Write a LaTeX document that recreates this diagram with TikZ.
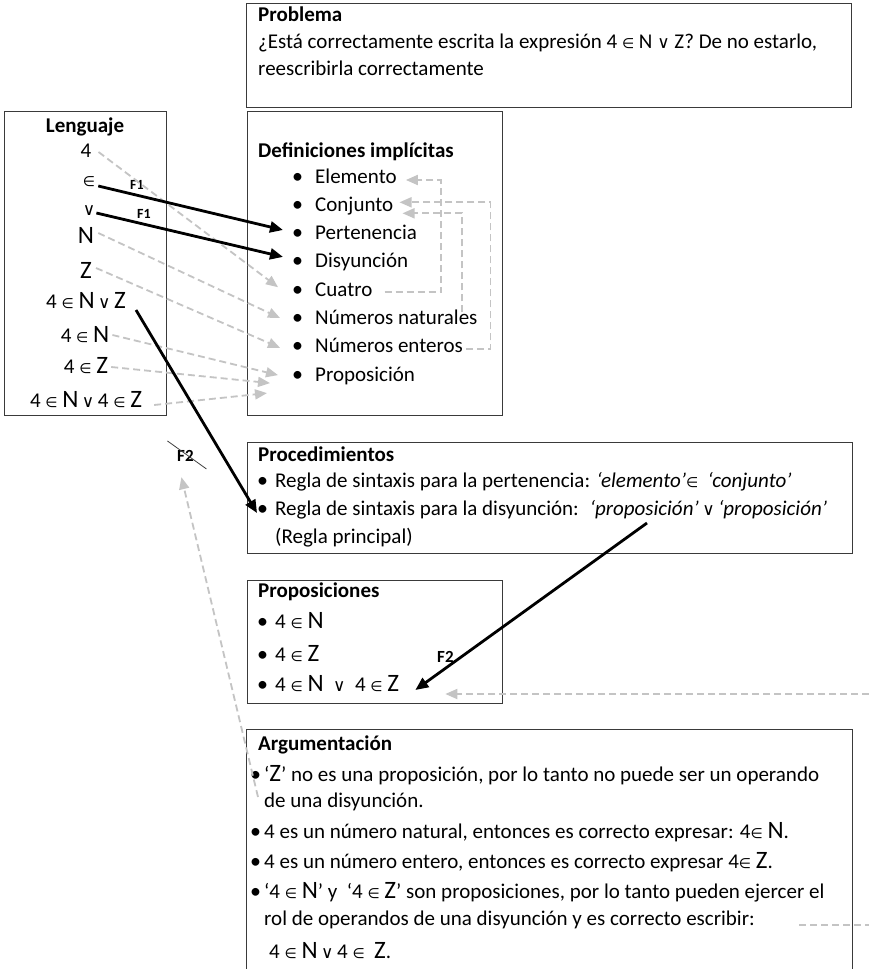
\documentclass[tikz,border=0pt]{standalone}
\usepackage{fontspec}
\setmainfont{Carlito}
\newfontfamily\symfont{DejaVu Sans}
\usetikzlibrary{arrows.meta,calc}

\definecolor{dashgray}{HTML}{C4C4C4}
\definecolor{boxline}{HTML}{3A3A3A}

% operator glyphs and the large set letters
\newcommand\sIn{{\symfont\fontsize{14}{14}\selectfont ∈}}
\newcommand\sOr{{\symfont\fontsize{17}{17}\selectfont ∨}}
\newcommand\bN{{\fontsize{25}{25}\selectfont N}}
\newcommand\bZ{{\fontsize{25}{25}\selectfont Z}}
% bullets with the indents of each box
\newcommand\bigbul{{\fontsize{22}{22}\selectfont\textbullet}}
\newcommand\bulD{\makebox[23pt][l]{\bigbul}}
\newcommand\bulP{\makebox[18pt][l]{\bigbul}}
\newcommand\bulA{\makebox[14pt][l]{\bigbul}}

\tikzset{
  txt/.style={inner sep=0pt, font=\fontsize{21}{25}\selectfont, text height=14pt, text depth=4pt},
  ttl/.style={txt, font=\fontsize{21}{25}\selectfont\bfseries},
  lab/.style={inner sep=0pt, font=\fontsize{14}{14}\selectfont\bfseries},
  labF/.style={inner sep=0pt, font=\fontsize{17}{17}\selectfont\bfseries},
  frame/.style={draw=boxline, line width=1pt},
  blk/.style={line width=2.8pt, -{Triangle[length=13pt,width=11pt]}},
  gry/.style={draw=dashgray, line width=1.8pt, dash pattern=on 7pt off 4pt,
              -{Triangle[length=12pt,width=10pt]}},
  grl/.style={draw=dashgray, line width=1.8pt, dash pattern=on 7pt off 4pt},
  strike/.style={draw=black!75, line width=0.8pt},
}

\begin{document}
\begin{tikzpicture}[x=1pt,y=-1pt]
\useasboundingbox (0,0) rectangle (869,969);
\fill[white] (0,0) rectangle (869,969);

% frames
\draw[frame] (246,3) rectangle (851,107);
\draw[frame] (4,111) rectangle (166,415);
\draw[frame] (247,111) rectangle (502,415);
\draw[frame] (247,442) rectangle (852,553);
\draw[frame] (247,580) rectangle (502,703);
\draw[frame] (246,729) rectangle (852,995);

% Problema
\node[ttl, anchor=base west] (tprob) at (258,21) {Problema};
\node[txt, anchor=base west] (q1) at (258,48) {¿Está correctamente escrita la expresión 4 \sIn\ N \sOr\ Z? De no estarlo,};
\node[txt, anchor=base west] (q2) at (258,75) {reescribirla correctamente};

% Lenguaje
\node[ttl, anchor=base] (tlen) at (85,132) {Lenguaje};
\node[txt, anchor=base] (l4) at (86,157) {4};
\node[txt, anchor=base] (lin) at (89,186) {\sIn};
\node[txt, anchor=base] (lor) at (89,215) {\sOr};
\node[txt, anchor=base] (lN) at (86,243) {\bN};
\node[txt, anchor=base] (lZ) at (86,278) {\bZ};
\node[txt, anchor=base] (lexp) at (86,308) {4 \sIn\ \bN\,\sOr\,\bZ};
\node[txt, anchor=base] (l4N) at (85,342) {4 \sIn\ \bN};
\node[txt, anchor=base] (l4Z) at (86,373) {4 \sIn\ \bZ};
\node[txt, anchor=base] (ldis) at (86,407) {4 \sIn\ \bN\,\sOr\,4 \sIn\ \bZ};

% Definiciones implicitas
\node[ttl, anchor=base west] (tdef) at (258,157) {Definiciones implícitas};
\node[txt, anchor=base west] (delem) at (292,183.0) {\bulD Elemento};
\node[txt, anchor=base west] (dconj) at (292,211.3) {\bulD Conjunto};
\node[txt, anchor=base west] (dpert) at (292,239.6) {\bulD Pertenencia};
\node[txt, anchor=base west] (ddis)  at (292,267.9) {\bulD Disyunción};
\node[txt, anchor=base west] (dcua)  at (292,296.2) {\bulD Cuatro};
\node[txt, anchor=base west] (dnat)  at (292,324.5) {\bulD Números naturales};
\node[txt, anchor=base west] (dent)  at (292,352.8) {\bulD Números enteros};
\node[txt, anchor=base west] (dpro)  at (292,381.1) {\bulD Proposición};

% Procedimientos
\node[ttl, anchor=base west] (tproc) at (258,461) {Procedimientos};
\node[txt, anchor=base west] (pb1) at (257,487) {\bulP Regla de sintaxis para la pertenencia: \textit{‘elemento’}\sIn\ \ \textit{‘conjunto’}};
\node[txt, anchor=base west] (pb2) at (257,515) {\bulP Regla de sintaxis para la disyunción: \ \textit{‘proposición’}\,\sOr\,\textit{‘proposición’}};
\node[txt, anchor=base west] (pb3) at (275,543) {(Regla principal)};

% Proposiciones
\node[ttl, anchor=base west] (tprop) at (258,597) {Proposiciones};
\node[txt, anchor=base west] (pp1) at (257,628) {\bulP 4 \sIn\ \bN};
\node[txt, anchor=base west] (pp2) at (257,661) {\bulP 4 \sIn\ \bZ};
\node[txt, anchor=base west] (pp3) at (257,691) {\bulP 4 \sIn\ \bN\ \ \sOr\ \ 4 \sIn\ \bZ};

% Argumentacion
\node[ttl, anchor=base west] (targ) at (258,750) {Argumentación};
\node[txt, anchor=base west] (a1)  at (250,781) {\bulA ‘\bZ’ no es una proposición, por lo tanto no puede ser un operando};
\node[txt, anchor=base west] (a1b) at (264,807) {de una disyunción.};
\node[txt, anchor=base west] (a2)  at (250,838) {\bulA 4 es un número natural, entonces es correcto expresar: 4\sIn\ \bN.};
\node[txt, anchor=base west] (a3)  at (250,868) {\bulA 4 es un número entero, entonces es correcto expresar 4\sIn\ \bZ.};
\node[txt, anchor=base west] (a4)  at (250,898) {\bulA ‘4 \sIn\ \bN’ y \ ‘4 \sIn\ \bZ’ son proposiciones, por lo tanto pueden ejercer el};
\node[txt, anchor=base west] (a4b) at (264,925) {rol de operandos de una disyunción y es correcto escribir:};
\node[txt, anchor=base west] (a4c) at (269,958) {4 \sIn\ \bN\,\sOr\,4 \sIn\ \ \bZ.};

% labels on the connectors
\node[lab, anchor=base west] (f1a) at (130,189) {F1};
\node[lab, anchor=base west] (f1b) at (137,218) {F1};
\node[labF, anchor=base west] (f2x) at (177,461) {F2};
\node[labF, anchor=base west] (f2r) at (437,662) {F2};
\draw[strike] ($(f2x.center)+(-18,-14.5)$) -- ($(f2x.center)+(21,13.5)$);

% Lenguaje -> Definiciones
\draw[gry] ($(l4.east)+(7,0)$) -- ($(dcua.west)+(-14,-4)$);
\draw[blk] ($(lin.east)+(3,5)$) -- ($(dpert.west)+(-9,-4.6)$);
\draw[blk] ($(lor.east)+(1,3)$) -- ($(ddis.west)+(-9,-6)$);
\draw[gry] ($(lN.east)+(4,-5)$) -- ($(dnat.west)+(-12,-1.5)$);
\draw[gry] ($(lZ.east)+(4,-5)$) -- ($(dent.west)+(-12,0)$);
\draw[gry] ($(l4N.east)+(3,-2)$) -- ($(dpro.west)+(-14,-1)$);
\draw[gry] ($(l4Z.east)+(3,-1)$) -- ($(dpro.west)+(-22,7)$);
\draw[gry] ($(ldis.east)+(12,3)$) -- ($(dpro.west)+(-25,17)$);

% links inside Definiciones
\draw[gry] ($(dcua.east)+(12,1)$) -| ($(delem.east)+(44,2)$) -- ($(delem.east)+(9,2)$);
\draw[gry] ($(dnat.north west)+(170,2)$) |- ($(dconj.east)+(9,7)$);
\draw[gry] ($(dent.east)+(3,1)$) -| ($(dconj.east)+(97,-4)$) -- ($(dconj.east)+(6,-4)$);

% Lenguaje -> Procedimientos -> Proposiciones
\draw[blk] ($(lexp.east)+(10,7)$) -- ($(pb2.west)+(0,3)$);
\draw[blk] ($(pb2.base west)+(390,8)$) -- ($(pp3.east)+(16,4)$);

% dashed links leaving the sheet
\coordinate (edgeA) at (869,694);
\coordinate (edgeB) at (869,925);
\draw[gry] (edgeA) -- ($(pp3.east)+(46,8)$);
\draw[grl] ($(a4b.east)+(44,5)$) coordinate (tailB) -- (tailB -| edgeB);

% Argumentacion -> crossed F2
\draw[gry] ($(a1.west)+(8,21)$) -- ($(f2x.south)+(-4,16)$);
\end{tikzpicture}
\end{document}
